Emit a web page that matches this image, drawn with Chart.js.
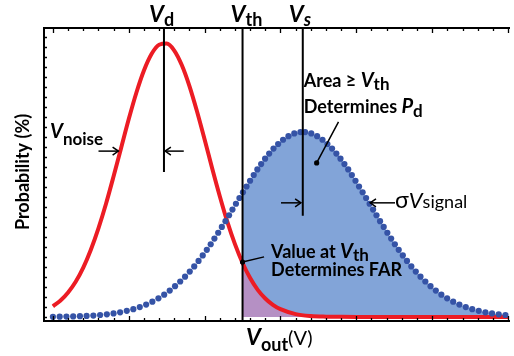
<!DOCTYPE html>
<html><head><meta charset="utf-8">
<script src="https://cdn.jsdelivr.net/npm/chart.js@4.4.1/dist/chart.umd.min.js"></script>
<style>html,body{margin:0;padding:0;background:#fff;}#wrap{width:514px;height:356px;position:relative;}</style>
</head><body><div id="wrap"><canvas id="c" width="514" height="356"></canvas></div>
<script>
// ---- data (x in volts-like units, y in %) ----
const noiseX = [0,0.1,0.2,0.3,0.4,0.5,0.6,0.7,0.8,0.9,1.0,1.1,1.2,1.3,1.4,1.5,1.6,1.7,1.8,1.9,2.0,2.1,2.2,2.3,2.4,2.5,2.6,2.7,2.8,2.9,3.0,3.2,3.4,3.6,3.8,4.0,4.5,5.0,5.5,6.0];
const noiseY = [3.7,5.7,8.5,12.2,17.1,23.3,30.7,39.2,48.7,58.6,68.5,77.6,85.3,91.0,94.2,94.6,92.2,87.1,79.9,71.1,61.4,51.4,41.8,32.9,25.2,18.7,13.5,9.4,6.4,4.2,2.7,1.0,0.33,0.12,0.05,0.02,0,0,0,0];
const signalX = [0.000,0.089,0.178,0.267,0.356,0.444,0.533,0.622,0.711,0.799,0.886,0.974,1.060,1.145,1.229,1.311,1.391,1.467,1.540,1.610,1.678,1.742,1.804,1.863,1.920,1.975,2.029,2.080,2.129,2.179,2.227,2.275,2.322,2.367,2.413,2.459,2.505,2.552,2.599,2.647,2.695,2.745,2.797,2.851,2.908,2.969,3.034,3.105,3.182,3.263,
 3.325,3.406,3.483,3.554,3.619,3.680,3.737,3.791,3.843,3.893,3.941,3.989,4.036,4.083,4.129,4.175,4.221,4.266,4.313,4.361,4.409,4.459,4.508,4.559,4.613,4.668,4.725,4.784,4.846,4.910,4.978,5.048,5.121,5.197,5.277,5.359,5.443,5.528,5.614,5.702,5.789,5.877,5.966];
const signalY = [0.07,0.10,0.14,0.19,0.27,0.38,0.51,0.70,0.94,1.24,1.63,2.12,2.72,3.45,4.31,5.32,6.47,7.74,9.14,10.65,12.28,13.95,15.71,17.51,19.39,21.29,23.24,25.18,27.14,29.15,31.17,33.16,35.20,37.17,39.18,41.18,43.16,45.16,47.14,49.13,51.05,52.92,54.78,56.55,58.28,59.87,61.33,62.57,63.51,63.99,
 63.99,63.51,62.57,61.33,59.87,58.28,56.55,54.78,52.92,51.05,49.13,47.14,45.16,43.16,41.18,39.18,37.17,35.20,33.16,31.17,29.15,27.14,25.18,23.24,21.29,19.39,17.51,15.71,13.95,12.28,10.65,9.14,7.74,6.47,5.32,4.31,3.45,2.72,2.12,1.63,1.24,0.94,0.70];
const V_D = 1.464, V_TH = 2.50, V_S = 3.294;
const xMajorTicks = [0,1,2,3,4,5,6];
const X_MINOR_STEP = 0.2;
const Y_TICK_STEP = 3.46;

const pts = (xs, ys) => xs.map((x, i) => ({x, y: ys[i]}));
const noisePts = pts(noiseX, noiseY);
const signalPts = pts(signalX, signalY);

function rich(ctx, x, y, parts) {
  let cx = x;
  ctx.textAlign = 'left'; ctx.textBaseline = 'alphabetic';
  for (const [t, f, dy] of parts) {
    ctx.font = f; ctx.fillText(t, cx, y + dy); cx += ctx.measureText(t).width;
  }
}
function arrow(ctx, x1, y1, x2, y2) {
  ctx.beginPath(); ctx.moveTo(x1, y1); ctx.lineTo(x2, y2); ctx.stroke();
  const a = Math.atan2(y2 - y1, x2 - x1), L = 7, w = 0.6;
  ctx.beginPath();
  ctx.moveTo(x2 - L * Math.cos(a - w), y2 - L * Math.sin(a - w));
  ctx.lineTo(x2, y2);
  ctx.lineTo(x2 - L * Math.cos(a + w), y2 - L * Math.sin(a + w));
  ctx.stroke();
}

const annot = {
  id: 'annot',
  afterDatasetsDraw(chart) {
    const ctx = chart.ctx, xs = chart.scales.x, ys = chart.scales.y, ca = chart.chartArea;
    const px = v => xs.getPixelForValue(v), py = v => ys.getPixelForValue(v);
    ctx.save();
    ctx.strokeStyle = '#000'; ctx.fillStyle = '#000';
    // vertical markers
    ctx.lineWidth = 2;
    ctx.beginPath();
    ctx.moveTo(px(V_D), ca.top); ctx.lineTo(px(V_D), py(50.2));
    ctx.moveTo(px(V_TH), ca.top); ctx.lineTo(px(V_TH), ca.bottom);
    ctx.moveTo(px(V_S), ca.top); ctx.lineTo(px(V_S), py(35.0));
    ctx.stroke();
    // arrows
    ctx.lineWidth = 1.5;
    arrow(ctx, px(0.601), py(57.4), px(0.863), py(57.4));
    arrow(ctx, px(1.725), py(57.4), px(V_D + 0.015), py(57.4));
    arrow(ctx, px(3.007), py(39.5), px(V_S - 0.025), py(39.5));
    arrow(ctx, px(4.510), py(39.5), px(4.183), py(39.5));
    // callouts
    ctx.beginPath();
    ctx.moveTo(px(3.765), py(67.5)); ctx.lineTo(px(3.477), py(53.3));
    ctx.moveTo(px(2.784), py(20.8)); ctx.lineTo(px(V_TH), py(19.0));
    ctx.stroke();
    ctx.beginPath(); ctx.arc(px(3.477), py(53.3), 2.6, 0, Math.PI * 2); ctx.fill();
    ctx.beginPath(); ctx.arc(px(V_TH), py(19.0), 2.6, 0, Math.PI * 2); ctx.fill();
    // frame + ticks
    ctx.lineWidth = 2;
    ctx.beginPath();
    ctx.moveTo(ca.left, ca.top); ctx.lineTo(ca.right, ca.top);
    ctx.moveTo(ca.left, ca.top - 1); ctx.lineTo(ca.left, ca.bottom + 1);
    ctx.moveTo(ca.left, ca.bottom); ctx.lineTo(ca.right, ca.bottom);
    ctx.stroke();
    ctx.lineWidth = 1.3;
    ctx.beginPath();
    for (let v = 0; v <= 6.001; v += X_MINOR_STEP) {
      const major = xMajorTicks.some(m => Math.abs(m - v) < 1e-6);
      const L = major ? 5 : 3, x = Math.round(px(v)) + 0.5;
      ctx.moveTo(x, ca.top); ctx.lineTo(x, ca.top + L);
      ctx.moveTo(x, ca.bottom); ctx.lineTo(x, ca.bottom - L);
    }
    for (let v = 0; v <= 99; v += Y_TICK_STEP) {
      const y = Math.round(py(v)) + 0.5;
      ctx.moveTo(ca.left, y); ctx.lineTo(ca.left + 3, y);
    }
    ctx.stroke();
    // texts
    const B = 'bold 18px Lato', VI = 'italic bold 20px Lato', SB = 'bold 17px Lato';
    rich(ctx, px(-0.039), py(61.9), [['V', VI, 0], ['noise', SB, 7]]);
    rich(ctx, px(3.307), py(79.6), [['Area \u2265 ', B, 0], ['V', VI, 0], ['th', SB, 3]]);
    rich(ctx, px(3.307), py(70.6), [['Determines ', B, 0], ['P', VI, 0], ['d', SB, 4]]);
    rich(ctx, px(2.876), py(20.4), [['Value at ', B, 0], ['V', VI, 0], ['th', SB, 3]]);
    rich(ctx, px(2.876), py(14.2), [['Determines FAR', B, 0]]);
    rich(ctx, px(4.510), py(37.7), [['\u03C3', '23px Lato', 0], ['V', 'italic 22px Lato', 0], ['signal', '18px Lato', 0]]);
    const TV = 'italic bold 23px Lato', TS = 'bold 18px Lato';
    rich(ctx, px(V_D) - 15, ca.top - 6, [['V', TV, 0], ['d', TS, 4]]);
    rich(ctx, px(V_TH) - 12, ca.top - 6, [['V', TV, 0], ['th', TS, 4]]);
    rich(ctx, px(V_S) - 14, ca.top - 6, [['V', TV, 0], ['s', 'italic bold 18px Lato', 4]]);
    rich(ctx, 246, ca.bottom + 24, [['V', TV, 0], ['out', TS, 6], ['(V)', '20px Lato', 0]]);
    ctx.save();
    ctx.translate(29, 172); ctx.rotate(-Math.PI / 2);
    ctx.font = 'bold 18px Lato'; ctx.textAlign = 'center'; ctx.textBaseline = 'alphabetic';
    ctx.fillText('Probability (%)', 0, 0);
    ctx.restore();
    ctx.restore();
  }
};

new Chart(document.getElementById('c'), {
  type: 'line',
  data: {
    datasets: [
      { data: signalPts, order: 0, showLine: false, pointRadius: 3.1, pointBackgroundColor: '#3553a6', pointBorderWidth: 0, fill: false },
      { data: noisePts, order: 1, borderColor: '#ec1c24', borderWidth: 4, pointRadius: 0, cubicInterpolationMode: 'monotone', fill: false },
      { data: noisePts.filter(p => p.x >= V_TH), order: 2, borderWidth: 0, borderColor: 'rgba(0,0,0,0)', pointRadius: 0, cubicInterpolationMode: 'monotone', fill: 'origin', backgroundColor: '#b590c4' },
      { data: signalPts.filter(p => p.x >= V_TH), order: 3, borderWidth: 0, borderColor: 'rgba(0,0,0,0)', pointRadius: 0, cubicInterpolationMode: 'monotone', fill: 'origin', backgroundColor: '#82a4d8' }
    ]
  },
  options: {
    responsive: false, animation: false,
    layout: { padding: { left: 44, right: 0, top: 28, bottom: 35 } },
    scales: {
      x: { type: 'linear', min: -0.1176, max: 6.026, display: false },
      y: { type: 'linear', min: -1.384, max: 100, display: false }
    },
    plugins: { legend: { display: false }, tooltip: { enabled: false } }
  },
  plugins: [annot]
});
</script></body></html>
